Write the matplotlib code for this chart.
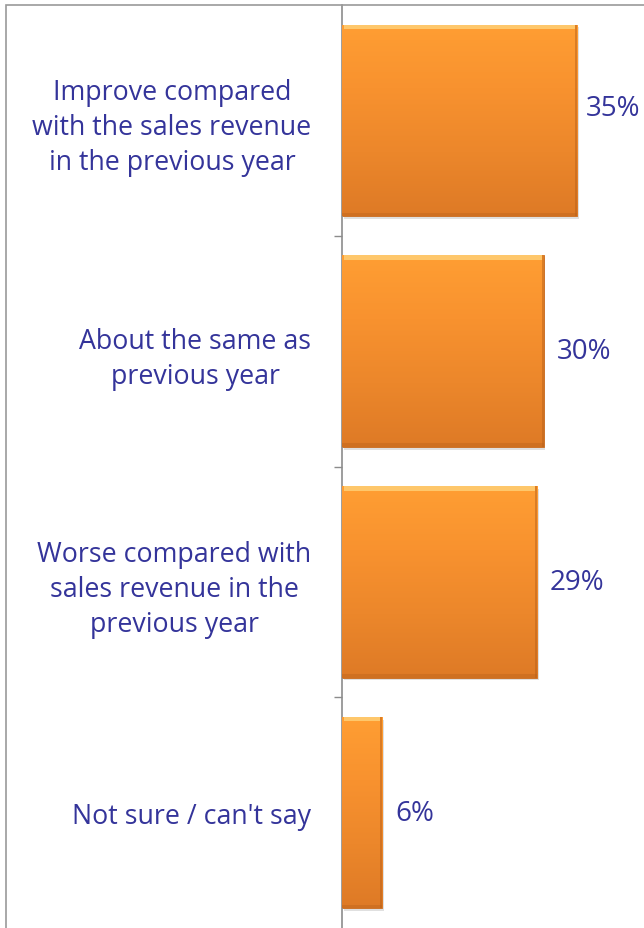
import numpy as np
import matplotlib
matplotlib.use("Agg")
import matplotlib.pyplot as plt
from matplotlib.patches import Rectangle
from matplotlib.colors import LinearSegmentedColormap

categories = [
    "Improve compared\nwith the sales revenue\nin the previous year",
    "About the same as\nprevious year",
    "Worse compared with\nsales revenue in the\nprevious year",
    "Not sure / can't say",
]
values = [35, 30, 29, 6]
value_labels = ["35%", "30%", "29%", "6%"]

text_color = "#34349A"
axis_color = "#8C8C8C"

plt.rcParams["font.family"] = ["Open Sans", "DejaVu Sans"]

fig = plt.figure(figsize=(6.44, 9.29), dpi=100)
W, H = 644, 929

# outer chart frame (extends past the right and bottom edges)
fig.patches.append(Rectangle((6 / W, -0.1), 1.2, 1 - 6 / H + 0.1,
                             transform=fig.transFigure, fill=False,
                             edgecolor="#9A9A9A", linewidth=1.2))

ax = fig.add_axes([342 / W, 0.0, 1 - 342 / W, 1 - 6 / H])
xmax = 44.9
ax.set_xlim(0, xmax)
ax.set_ylim(len(categories) - 0.5, -0.5)

bar_h = 0.83
y = np.arange(len(categories))

orange = LinearSegmentedColormap.from_list(
    "bar_grad", ["#FF9E33", "#F8922F", "#EC872B", "#DE7A26"])

for yi, v in zip(y, values):
    # drop shadow
    ax.add_patch(Rectangle((0.25, yi - bar_h / 2 + 0.012), v, bar_h,
                           facecolor="#000000", alpha=0.12, linewidth=0, zorder=1))
    bar = ax.barh(yi, v, height=bar_h, color="#F08C2E", edgecolor="#C8691C",
                  linewidth=0.6, zorder=2)[0]
    grad = np.linspace(0, 1, 256).reshape(-1, 1)
    im = ax.imshow(grad, cmap=orange, aspect="auto", origin="upper",
                   extent=(0, v, yi + bar_h / 2, yi - bar_h / 2), zorder=3)
    im.set_clip_path(bar)
    # bevel: light top edge, darker right edge and bottom
    ax.add_patch(Rectangle((0.3, yi - bar_h / 2), v - 0.6, 0.02,
                           facecolor="#FFD27A", alpha=0.8, linewidth=0, zorder=4))
    ax.add_patch(Rectangle((v - 0.3, yi - bar_h / 2), 0.3, bar_h,
                           facecolor="#B9611A", alpha=0.5, linewidth=0, zorder=4))
    ax.add_patch(Rectangle((0, yi + bar_h / 2 - 0.015), v, 0.015,
                           facecolor="#B9611A", alpha=0.4, linewidth=0, zorder=4))

# value labels; keep the label inside the plot when the bar is long
for yi, v, lab in zip(y, values, value_labels):
    x = v + 1.9
    if x + 8.3 > xmax:
        ax.text(xmax - 0.5, yi - 0.055, lab, va="center", ha="right",
                color=text_color, fontsize=20)
    else:
        ax.text(x, yi, lab, va="center", ha="left", color=text_color,
                fontsize=20)

ax.set_yticks(y)
ax.set_yticklabels(categories, fontsize=19.3, color=text_color,
                   multialignment="center", linespacing=1.33)
ax.tick_params(axis="y", which="major", length=0, pad=22)
ax.set_yticks([0.5, 1.5, 2.5], minor=True)
ax.tick_params(axis="y", which="minor", length=6, width=1, color=axis_color,
               direction="out")
ax.set_xticks([])

for s in ["top", "right", "bottom"]:
    ax.spines[s].set_visible(False)
ax.spines["left"].set_color(axis_color)
ax.spines["left"].set_linewidth(1.2)
ax.patch.set_alpha(0)

fig.savefig("out.png", dpi=100)
